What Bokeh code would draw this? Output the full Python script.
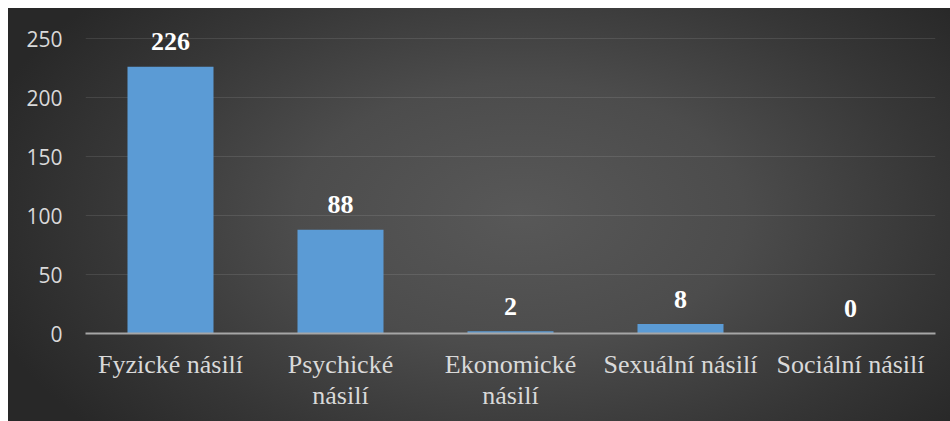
from bokeh.plotting import figure
from bokeh.models import ColumnDataSource, FixedTicker, Range1d
from bokeh.core.properties import value
from bokeh.embed import file_html
from bokeh.resources import INLINE

categories = ["Fyzické násilí", "Psychické\nnásilí", "Ekonomické\nnásilí", "Sexuální násilí", "Sociální násilí"]
counts = [226, 88, 2, 8, 0]
y_ticks = [0, 50, 100, 150, 200, 250]

src = ColumnDataSource(dict(cat=categories, val=counts, lab=[str(v) for v in counts]))

# frame extended a little above the 250 gridline so the top data label is not clipped
p = figure(x_range=categories, y_range=Range1d(0, 265.3), width=950, height=421,
           output_backend="svg", toolbar_location=None,
           min_border_left=85, min_border_right=15, min_border_top=20, min_border_bottom=88)

p.background_fill_alpha = 0
p.border_fill_alpha = 0
p.outline_line_color = None
p.styles = {"background": (
    "linear-gradient(#ffffff,#ffffff) 0 0 / 100% 8px no-repeat, "
    "linear-gradient(#ffffff,#ffffff) 0 0 / 8px 100% no-repeat, "
    "radial-gradient(ellipse 560px 330px at 520px 215px, #585858 0%, #4c4c4c 40%, #363636 75%, #282828 100%)")}

p.vbar(x="cat", top="val", width=0.506, source=src, fill_color="#5b9bd5", line_color=None)

p.text(x="cat", y="val", text="lab", source=src, text_align="center", text_baseline="alphabetic",
       y_offset=-25, text_color="white", text_font=value("Liberation Serif"),
       text_font_style="bold", text_font_size="26px")

p.yaxis.ticker = FixedTicker(ticks=y_ticks)
p.yaxis.axis_line_color = None
p.yaxis.major_tick_line_color = None
p.yaxis.minor_tick_line_color = None
p.yaxis.major_label_text_font = "Open Sans"
p.yaxis.major_label_text_font_size = "21px"
p.yaxis.major_label_text_color = "#d9d9d9"
p.yaxis.major_label_standoff = 17

p.xaxis.axis_line_color = "#a6a6a6"
p.xaxis.axis_line_width = 2
p.xaxis.major_tick_line_color = None
p.xaxis.minor_tick_line_color = None
p.xaxis.major_label_text_font = "Liberation Serif"
p.xaxis.major_label_text_font_size = "26px"
p.xaxis.major_label_text_color = "#d9d9d9"
p.xaxis.major_label_text_line_height = 1.1
p.xaxis.major_label_standoff = 10

p.xgrid.grid_line_color = None
p.ygrid.grid_line_color = "#ffffff"
p.ygrid.grid_line_alpha = 0.1
p.ygrid.grid_line_width = 1

open("out.html", "w").write(file_html(p, INLINE))
